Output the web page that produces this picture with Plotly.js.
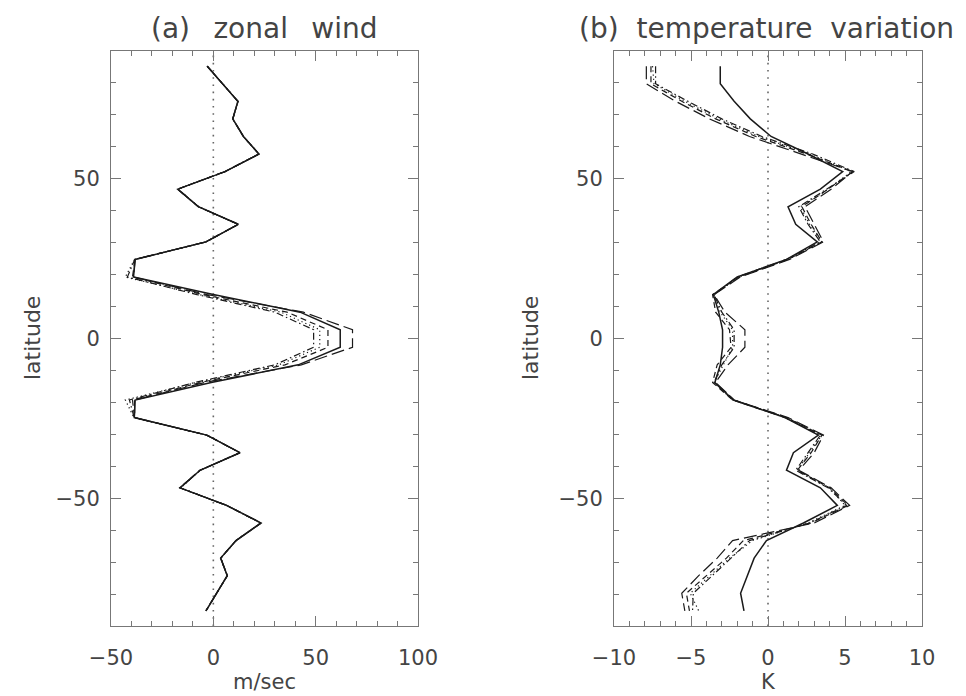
<!DOCTYPE html>
<html><head><meta charset="utf-8">
<script src="https://cdn.plot.ly/plotly-3.0.1.min.js"></script>
<style>html,body{margin:0;padding:0;background:#fff}</style>
</head><body><div id="chart" style="width:966px;height:696px"></div>
<script>
// latitude grid (degrees)
const latitude = [85.25, 79.75, 74.25, 68.75, 63.25, 57.75, 52.25, 46.75, 41.25, 35.75, 30.25, 24.75, 19.25, 13.75, 8.25, 2.75,
  -2.75, -8.25, -13.75, -19.25, -24.75, -30.25, -35.75, -41.25, -46.75, -52.25, -57.75, -63.25, -68.75, -74.25, -79.75, -85.25];

// (a) zonal wind, m/sec
const windSolid    = [-3, 4.5, 12, 9.5, 14.7, 22.3, 5.7, -17.4, -7.3, 12.2, -3.6, -38.2, -39, 0, 42.4, 62, 62, 41.5, -1, -38.2, -38.6, -3.2, 13, -6.5, -16.3, 6.5, 23.3, 11.1, 3.6, 6.8, 1.6, -3.6];
const windDotted   = [-3, 4.6, 12.1, 9.4, 14.8, 22.2, 5.8, -17.2, -7.1, 12.1, -3.5, -38.5, -43, -7, 33, 52, 52, 32, -8, -43, -38.8, -3.0, 12.8, -6.3, -16.0, 6.6, 23.1, 11.2, 3.7, 6.7, 1.7, -3.5];
const windDashed   = [-2.9, 4.5, 11.9, 9.6, 14.6, 22.4, 5.6, -17.5, -7.4, 12.3, -3.7, -38.3, -39.5, -5, 36, 56, 56, 35, -6, -39.5, -38.5, -3.3, 13.1, -6.6, -16.4, 6.4, 23.4, 11.0, 3.5, 6.9, 1.5, -3.7];
const windDashDot  = [-3.1, 4.4, 12.1, 9.5, 14.7, 22.2, 5.7, -17.3, -7.2, 12.2, -3.5, -38.4, -42, -8, 30, 49, 49, 30, -9, -41, -38.7, -3.1, 12.9, -6.4, -16.2, 6.5, 23.2, 11.1, 3.6, 6.8, 1.6, -3.6];
const windLongDash = [-3, 4.5, 12, 9.5, 14.7, 22.3, 5.7, -17.4, -7.3, 12.2, -3.6, -38.2, -39, -3, 44, 68, 68, 43, -4, -38.5, -38.4, -3.2, 13, -6.5, -16.3, 6.5, 23.3, 11.1, 3.6, 6.8, 1.6, -3.6];

// (b) temperature variation, K
const tempSolid    = [-3.1, -3.1, -2.2, -1.15, 0.2, 2.6, 4.85, 3.4, 1.3, 1.8, 3.2, 1.2, -2.0, -3.55, -3.2, -2.95, -2.95, -3.1, -3.45, -2.25, 1.1, 3.27, 1.65, 1.2, 3.4, 4.5, 2.3, -0.1, -0.9, -1.35, -1.78, -1.56];
const tempLongDash = [-7.9, -7.9, -6.0, -3.8, -1.2, 2.1, 5.5, 4.1, 2.4, 3.0, 3.6, 1.4, -1.8, -3.5, -2.8, -1.5, -1.5, -2.6, -3.4, -2.2, 1.3, 3.6, 3.0, 2.0, 4.1, 5.3, 3.0, -2.3, -3.3, -4.5, -5.6, -5.4];
const tempDashed   = [-7.6, -7.6, -5.6, -3.4, -0.8, 2.5, 5.5, 3.9, 2.2, 2.8, 3.5, 1.3, -1.9, -3.6, -3.4, -2.5, -2.4, -3.3, -3.6, -2.3, 1.2, 3.5, 2.8, 1.9, 4.0, 5.2, 2.8, -1.6, -2.7, -4.0, -5.3, -5.1];
const tempDashDot  = [-7.3, -7.3, -5.2, -3.0, -0.4, 2.9, 5.6, 3.8, 2.0, 2.6, 3.4, 1.2, -2.0, -3.5, -3.0, -2.2, -2.2, -3.0, -3.5, -2.2, 1.1, 3.4, 2.6, 1.8, 3.9, 5.1, 2.7, -1.2, -2.4, -3.6, -4.85, -4.9];
const tempDotted   = [-7.5, -7.4, -5.4, -3.2, -0.6, 2.7, 5.4, 3.9, 2.1, 2.7, 3.5, 1.3, -1.9, -3.5, -3.1, -2.3, -2.3, -2.9, -3.5, -2.3, 1.2, 3.5, 2.7, 1.9, 4.0, 5.0, 2.6, -1.0, -2.5, -3.8, -5.05, -4.5];

const zeroRef = 0;
const xTitleA = 'm/sec', xTitleB = 'K', yTitle = 'latitude';
const titleA = '(a)\u00a0\u00a0\u2009zonal\u00a0\u00a0\u2009wind';
const titleB = '(b)\u00a0\u00a0temperature\u00a0\u00a0variation';

const FONT = 'DejaVu Sans, Verdana, sans-serif';
const TXT = '#444';
const FRAME = '#777';
const INK = '#1a1a1a';

const styles = {
  solid:    {dash: 'solid', width: 1.5},
  dotted:   {dash: '1.2px,3px', width: 1.2},
  dashed:   {dash: '6px,4px', width: 1.2},
  dashdot:  {dash: '7px,3px,1.5px,3px', width: 1.2},
  longdash: {dash: '13px,5px', width: 1.2}
};

function tr(x, style, xa) {
  return {x: x, y: latitude, type: 'scatter', mode: 'lines', xaxis: xa, yaxis: xa === 'x' ? 'y' : 'y2',
    line: {color: INK, width: styles[style].width, dash: styles[style].dash}, hoverinfo: 'skip', showlegend: false};
}

const data = [
  tr(windLongDash, 'longdash', 'x'), tr(windDashed, 'dashed', 'x'), tr(windDashDot, 'dashdot', 'x'),
  tr(windDotted, 'dotted', 'x'), tr(windSolid, 'solid', 'x'),
  tr(tempLongDash, 'longdash', 'x2'), tr(tempDashed, 'dashed', 'x2'), tr(tempDashDot, 'dashdot', 'x2'),
  tr(tempDotted, 'dotted', 'x2'), tr(tempSolid, 'solid', 'x2')
];

const W = 966, H = 696;
const yDom = [1 - 626 / H, 1 - 51 / H];
function axisBase(extra) {
  return Object.assign({
    showline: true, mirror: 'allticks', linecolor: FRAME, linewidth: 1,
    ticks: 'inside', ticklen: 10, tickcolor: FRAME, tickwidth: 1,
    showgrid: false, zeroline: false, fixedrange: true,
    tickfont: {family: FONT, size: 21, color: TXT}
  }, extra);
}

const layout = {
  width: W, height: H, margin: {l: 0, r: 0, t: 0, b: 0},
  paper_bgcolor: '#fff', plot_bgcolor: '#fff', showlegend: false,
  xaxis: axisBase({domain: [111 / W, 418 / W], range: [-50, 100], dtick: 50, tick0: 0, anchor: 'y',
    ticklabelstandoff: 13, minor: {dtick: 10, ticks: 'inside', ticklen: 5, tickcolor: FRAME}}),
  yaxis: axisBase({domain: yDom, range: [-90, 90], dtick: 50, tick0: 0, anchor: 'x',
    ticklabelstandoff: 6, minor: {dtick: 10, ticks: 'inside', ticklen: 5, tickcolor: FRAME}}),
  xaxis2: axisBase({domain: [614 / W, 922 / W], range: [-10, 10], dtick: 5, tick0: 0, anchor: 'y2',
    ticklabelstandoff: 13, minor: {dtick: 1, ticks: 'inside', ticklen: 5, tickcolor: FRAME}}),
  yaxis2: axisBase({domain: yDom, range: [-90, 90], dtick: 50, tick0: 0, anchor: 'x2',
    ticklabelstandoff: 6, minor: {dtick: 10, ticks: 'inside', ticklen: 5, tickcolor: FRAME}}),
  shapes: [
    {type: 'line', xref: 'x', yref: 'y domain', x0: zeroRef, x1: zeroRef, y0: 0, y1: 1, layer: 'below',
      line: {color: '#666', width: 1.6, dash: '1.6px,5.6px'}},
    {type: 'line', xref: 'x2', yref: 'y2 domain', x0: zeroRef, x1: zeroRef, y0: 0, y1: 1, layer: 'below',
      line: {color: '#666', width: 1.6, dash: '1.6px,5.6px'}}
  ],
  annotations: [
    {text: titleA, xref: 'paper', yref: 'paper', x: 264.5 / W, y: 1 - 29 / H, xanchor: 'center', yanchor: 'middle',
      showarrow: false, font: {family: FONT, size: 28, color: TXT}},
    {text: titleB, xref: 'paper', yref: 'paper', x: 766 / W, y: 1 - 29 / H, xanchor: 'center', yanchor: 'middle',
      showarrow: false, font: {family: FONT, size: 28, color: TXT}},
    {text: xTitleA, xref: 'paper', yref: 'paper', x: 264.5 / W, y: 1 - 682 / H, xanchor: 'center', yanchor: 'middle',
      showarrow: false, font: {family: FONT, size: 21, color: TXT}},
    {text: xTitleB, xref: 'paper', yref: 'paper', x: 768 / W, y: 1 - 682 / H, xanchor: 'center', yanchor: 'middle',
      showarrow: false, font: {family: FONT, size: 21, color: TXT}},
    {text: yTitle, xref: 'paper', yref: 'paper', x: 32 / W, y: 1 - 338 / H, xanchor: 'center', yanchor: 'middle',
      textangle: -90, showarrow: false, font: {family: FONT, size: 22, color: TXT}},
    {text: yTitle, xref: 'paper', yref: 'paper', x: 530 / W, y: 1 - 338 / H, xanchor: 'center', yanchor: 'middle',
      textangle: -90, showarrow: false, font: {family: FONT, size: 22, color: TXT}}
  ]
};

Plotly.newPlot('chart', data, layout, {displayModeBar: false, staticPlot: true});
</script></body></html>
